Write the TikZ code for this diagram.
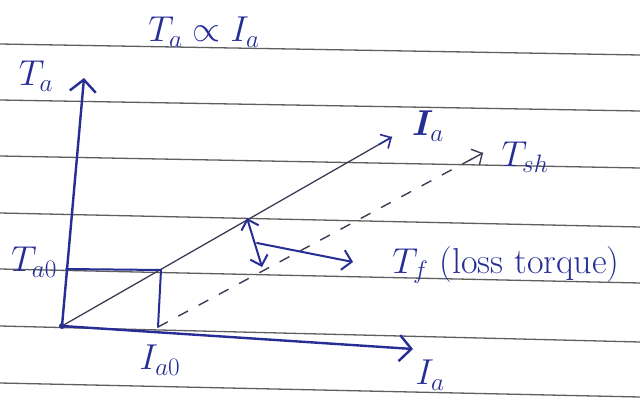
\RequirePackage{fix-cm}
\documentclass[tikz,border=0pt]{standalone}
\usepackage{amsmath}
\usepackage{bm}
\usetikzlibrary{arrows.meta, calc}
\definecolor{ink}{RGB}{38,46,150}
\definecolor{ruled}{RGB}{95,95,95}
\definecolor{pencil}{RGB}{60,60,85}

\tikzset{
  axis/.style={ink, line width=2.4pt, line cap=round},
  guide/.style={ink, line width=2pt, line cap=round},
  lbl/.style={ink, inner sep=0pt},
}

\begin{document}
\begin{tikzpicture}[x=1pt, y=-1pt, >={Straight Barb[length=12pt,width=26pt]},
    font=\fontsize{36}{42}\selectfont]
  \useasboundingbox (0,0) rectangle (640,399);
  \fill[white] (0,0) rectangle (640,399);

  % ruled paper
  \foreach \y/\d in {44/11,100/11,156/12,213/14,269/14,326/16,383/14}
    \draw[ruled, line width=1.3pt] (0,\y) -- (640,\y+\d);

  \coordinate (O) at (62,326);
  \coordinate (taTip) at (84,78);
  \coordinate (iaTip) at (413,349);
  \coordinate (Pa) at (66,269);
  \coordinate (P) at (161,270);
  \coordinate (Pb) at (158,327);
  \coordinate (diagTip) at (392,137);
  \coordinate (shTip) at (483,153);
  \coordinate (fTop) at (247,218);
  \coordinate (fBot) at (262,267);
  \coordinate (fMid) at (257,243);
  \coordinate (fTip) at (353,262);

  \node[lbl] (title) at (204,32) {$T_a \propto I_a$};
  \node[lbl] (ta) at (36,76) {$T_a$};
  \node[lbl] (ia) at (428,126) {$\bm{I}_a$};
  \node[lbl] (tsh) at (525,157) {$T_{sh}$};
  \node[lbl] (ta0) at (34,262) {$T_{a0}$};
  \node[lbl] (ia0) at (160,360) {$I_{a0}$};
  \node[lbl] (iax) at (430,375) {$I_a$};
  \node[lbl] (tf) at (506,265) {$T_f$ (loss torque)};

  \draw[axis, ->] (O) -- (taTip);
  \draw[axis, ->] (O) -- (iaTip);
  \fill[ink] (O) circle (3pt);

  \draw[pencil, line width=1.3pt] (O) -- (diagTip);
  \draw[ink, line width=1.6pt, -{Straight Barb[length=8pt,width=16pt]}] ($(O)!0.96!(diagTip)$) -- (diagTip);

  \draw[guide] (Pa) -- (P) -- (Pb);
  \draw[pencil, line width=1.4pt, dash pattern=on 11pt off 12pt] (Pb) -- (shTip);
  \draw[pencil, line width=1.4pt, -{Straight Barb[length=8pt,width=18pt]}] ($(Pb)!0.96!(shTip)$) -- (shTip);

  \draw[guide, {Straight Barb[length=9pt,width=18pt]}-{Straight Barb[length=9pt,width=18pt]}] (fTop) -- (fBot);
  \draw[guide, -{Straight Barb[length=9pt,width=20pt]}] (fMid) -- (fTip);
\end{tikzpicture}
\end{document}
